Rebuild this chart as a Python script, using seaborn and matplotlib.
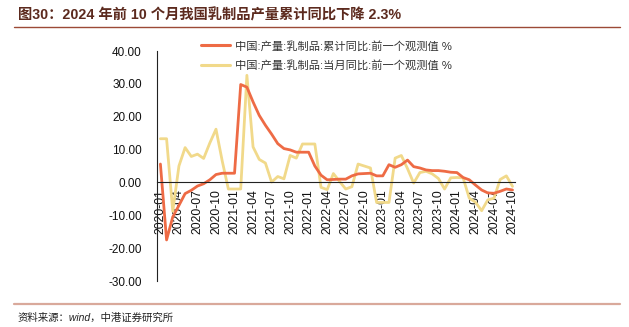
import numpy as np
import pandas as pd
import matplotlib
matplotlib.use("Agg")
import matplotlib.pyplot as plt
import seaborn as sns
from matplotlib.lines import Line2D

# ---- data ----
months = pd.period_range("2020-01", "2024-10", freq="M").strftime("%Y-%m").tolist()
cumulative_yoy = [5.6, -17.5, -10.5, -7.0, -3.4, -2.4, -1.1, -0.4, 0.8, 2.4,
                  2.8, 2.8, 2.8, 29.8, 29.0, 24.5, 20.4, 17.4, 14.7, 11.8,
                  10.3, 9.9, 9.2, 9.2, 9.2, 5.0, 2.2, 0.8, 0.9, 1.0,
                  1.0, 2.0, 2.6, 2.7, 2.8, 2.0, 2.0, 5.4, 4.6, 5.4,
                  6.8, 4.8, 4.4, 3.8, 3.6, 3.6, 3.4, 3.1, 3.0, 1.5,
                  0.8, -0.8, -2.3, -3.2, -3.3, -2.7, -2.0, -2.3]
monthly_yoy = [13.3, 13.3, -8.8, 5.0, 10.6, 7.9, 8.6, 7.3, 12.0, 16.2,
               6.6, -2.0, -2.0, -2.0, 32.6, 10.8, 7.0, 5.9, 0.1, 1.8,
               1.1, 8.2, 7.4, 11.7, 11.7, 11.7, -1.5, -2.2, 2.7, 0.3,
               -2.0, -1.3, 5.6, 5.0, 4.4, -6.1, -6.1, -6.1, 7.4, 8.2,
               4.2, -0.2, 3.0, 3.4, 2.6, 1.2, -2.0, 1.4, 1.5, 1.4,
               -4.8, -6.0, -8.6, -5.3, -4.8, 0.9, 2.0, -1.2]
series_names = ["中国:产量:乳制品:累计同比:前一个观测值 %",
                "中国:产量:乳制品:当月同比:前一个观测值 %"]
y_ticks = [40, 30, 20, 10, 0, -10, -20, -30]
title = "图30：2024 年前 10 个月我国乳制品产量累计同比下降 2.3%"
source = "资料来源：wind，中港证券研究所"

sns.set_style("white")
plt.rcParams["font.family"] = ["Liberation Sans", "Noto Sans CJK SC", "DejaVu Sans"]

n = len(months)
df = pd.DataFrame({
    "idx": list(range(n)) * 2,
    "month": months * 2,
    "value": cumulative_yoy + monthly_yoy,
    "series": [series_names[0]] * n + [series_names[1]] * n,
})

fig = plt.figure(figsize=(6.29, 3.27), dpi=100)
ax = fig.add_axes([157 / 629, 1 - 281 / 327, (515 - 157) / 629, (281 - 51) / 327])

palette = {series_names[0]: "#ee6b45", series_names[1]: "#f1d98a"}
sns.lineplot(data=df, x="idx", y="value", hue="series", palette=palette,
             hue_order=[series_names[1], series_names[0]],
             linewidth=2.0, ax=ax, legend=False)

for s in ["top", "right"]:
    ax.spines[s].set_visible(False)
ax.spines["bottom"].set_position(("data", 0))
ax.spines["bottom"].set_color("#222222")
ax.spines["left"].set_color("#222222")
ax.spines["bottom"].set_linewidth(0.8)
ax.spines["left"].set_linewidth(0.8)

ax.set_xlim(-0.55, 57.4)
ax.set_ylim(-30, 40)
ax.set_yticks(y_ticks)
ax.set_yticklabels([f"{v:.2f}" for v in y_ticks], fontsize=8.5, color="#111111")
tick_pos = list(range(0, n, 3))
ax.set_xticks(tick_pos)
ax.set_xticklabels([months[i] for i in tick_pos], rotation=90, fontsize=8.7, color="#111111")
ax.set_xlabel("")
ax.set_ylabel("")
ax.tick_params(axis="both", direction="out", length=3, width=0.8, color="#222222", pad=2)
ax.tick_params(axis="x", labelrotation=90)
ax.tick_params(axis="y", pad=8)

handles = [Line2D([0], [0], color=palette[series_names[0]], lw=2.2),
           Line2D([0], [0], color=palette[series_names[1]], lw=2.2)]
leg = ax.legend(handles, series_names, loc="upper left", bbox_to_anchor=(0.11, 1.065),
                frameon=False, fontsize=8.1, handlelength=2.6, handletextpad=0.4,
                labelspacing=0.75, borderaxespad=0)
for t in leg.get_texts():
    t.set_color("#333333")

fig.text(18 / 629, 1 - 15 / 327, title, fontsize=10.3, fontweight="bold", color="#5c2a1e",
         va="center", ha="left", family=["Liberation Sans", "Noto Sans CJK SC"])
fig.add_artist(Line2D([14 / 629, 620 / 629], [1 - 27 / 327, 1 - 27 / 327],
                      transform=fig.transFigure, color="#9c4a36", lw=1.0))
fig.add_artist(Line2D([14 / 629, 620 / 629], [1 - 304 / 327, 1 - 304 / 327],
                      transform=fig.transFigure, color="#d9a99b", lw=1.6))
fig.text(18 / 629, 1 - 318 / 327, source, fontsize=7.5, style="italic", color="#222222",
         va="center", ha="left")

fig.savefig("out.png", dpi=100)
